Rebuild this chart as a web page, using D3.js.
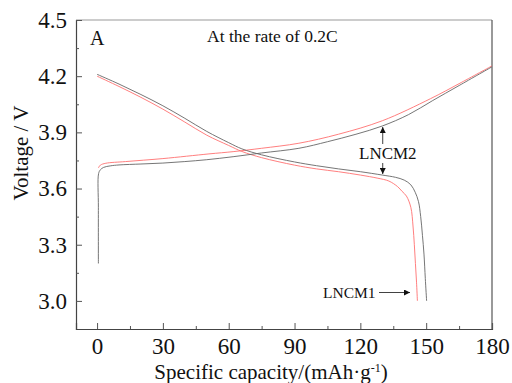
<!DOCTYPE html>
<html>
<head>
<meta charset="utf-8">
<script src="https://cdn.jsdelivr.net/npm/d3@7"></script>
<style>
  body { margin: 0; background: #fff; }
  svg { display: block; }
  text { font-family: "Liberation Serif", "Times New Roman", serif; fill: #111; }
</style>
</head>
<body>
<svg width="512" height="383"></svg>
<script>
// charge / discharge curves, [capacity mAh/g, voltage V]
var blackDischarge = [[0,4.21],[10,4.158],[20,4.102],[30,4.042],[40,3.975],[50,3.905],[60,3.845],[66,3.812],
  [75,3.78],[90,3.742],[100,3.722],[110,3.705],[120,3.69],[130,3.672],[136,3.66],[140,3.645],[143,3.62],
  [145,3.58],[146.5,3.53],[147.5,3.45],[148.3,3.35],[149,3.25],[149.6,3.12],[150.2,3.0]];
var redDischarge = [[0,4.20],[10,4.145],[20,4.087],[30,4.024],[40,3.955],[50,3.885],[60,3.83],[66,3.798],
  [75,3.765],[90,3.725],[100,3.705],[110,3.69],[120,3.672],[128,3.655],[133,3.64],[137,3.61],
  [139,3.585],[141,3.56],[143,3.50],[144,3.40],[144.6,3.30],[145.1,3.20],[145.6,3.10],[146,3.0]];
var blackCharge = [[0.6,3.20],[0.6,3.5],[0.7,3.68],[1.5,3.70],[3,3.713],[6,3.721],[10,3.726],[20,3.731],
  [30,3.736],[40,3.744],[50,3.754],[62,3.77],[75,3.79],[92,3.815],[105,3.85],[118,3.89],[130,3.934],
  [142,3.995],[153,4.07],[165,4.15],[180,4.25]];
var redCharge = [[0.6,3.71],[1.5,3.725],[4,3.735],[13,3.744],[30,3.76],[51,3.785],[62,3.797],[75,3.815],
  [92,3.842],[110,3.89],[130,3.962],[152,4.08],[165,4.16],[180,4.255]];

var xMajor = [0, 30, 60, 90, 120, 150, 180];
var xMinor = [15, 45, 75, 105, 135, 165];
var yMajor = [3.0, 3.3, 3.6, 3.9, 4.2, 4.5];
var yMinor = [3.15, 3.45, 3.75, 4.05, 4.35];

var svg = d3.select("svg");
var plotL = 76, plotR = 492, plotT = 20, plotB = 329;

var x = d3.scaleLinear().domain([-9.6, 180]).range([plotL, plotR]);
var y = d3.scaleLinear().domain([2.85, 4.5]).range([plotB, plotT]);

// frame
svg.append("line").attr("x1", plotL).attr("x2", plotR).attr("y1", plotT).attr("y2", plotT)
  .attr("stroke", "#999").attr("stroke-width", 1.2);
svg.append("line").attr("x1", plotR).attr("x2", plotR).attr("y1", plotT).attr("y2", plotB)
  .attr("stroke", "#555").attr("stroke-width", 1.2);

// axes, ticks pointing inward
svg.append("g").attr("transform", "translate(0," + plotB + ")")
  .call(d3.axisBottom(x).tickValues(xMajor).tickSize(-6).tickPadding(9).tickFormat(d3.format("d")));
svg.append("g").attr("transform", "translate(0," + plotB + ")")
  .call(d3.axisBottom(x).tickValues(xMinor).tickSize(-3).tickFormat(""))
  .select(".domain").remove();
svg.append("g").attr("transform", "translate(" + plotL + ",0)")
  .call(d3.axisLeft(y).tickValues(yMajor).tickSize(-6).tickPadding(9).tickFormat(d3.format(".1f")));
svg.append("g").attr("transform", "translate(" + plotL + ",0)")
  .call(d3.axisLeft(y).tickValues(yMinor).tickSize(-3).tickFormat(""))
  .select(".domain").remove();

svg.selectAll(".domain").attr("stroke", "#444").attr("stroke-width", 1.2);
svg.selectAll(".tick line").attr("stroke", "#555");
svg.selectAll(".tick text").style("font-size", "23px").style("font-family", "Liberation Serif").attr("fill", "#111");

// curves
var lineX = d3.line().x(function(d) { return x(d[0]); }).y(function(d) { return y(d[1]); })
  .curve(d3.curveCatmullRom);
svg.append("path").datum(redCharge).attr("d", lineX).attr("fill", "none").attr("stroke", "#ff7070").attr("stroke-width", 0.9);
svg.append("path").datum(redDischarge).attr("d", lineX).attr("fill", "none").attr("stroke", "#ff7070").attr("stroke-width", 0.9);
svg.append("path").datum(blackCharge).attr("d", lineX).attr("fill", "none").attr("stroke", "#666").attr("stroke-width", 0.9);
svg.append("path").datum(blackDischarge).attr("d", lineX).attr("fill", "none").attr("stroke", "#666").attr("stroke-width", 0.9);

// arrow marker
svg.append("defs").append("marker").attr("id", "arr")
  .attr("viewBox", "0 0 10 10").attr("refX", 10).attr("refY", 5)
  .attr("markerWidth", 8).attr("markerHeight", 6).attr("orient", "auto-start-reverse")
  .attr("markerUnits", "userSpaceOnUse")
  .append("path").attr("d", "M0,0L10,5L0,10z").attr("fill", "#111");

// annotations
svg.append("text").attr("x", 90).attr("y", 45).style("font-size", "20px").text("A");
svg.append("text").attr("x", 207).attr("y", 42).style("font-size", "17.5px").text("At the rate of 0.2C");

svg.append("text").attr("x", 359).attr("y", 159).style("font-size", "17px").text("LNCM2");
svg.append("line").attr("x1", x(130.2)).attr("x2", x(130.2)).attr("y1", 144).attr("y2", y(3.934) + 1)
  .attr("stroke", "#111").attr("stroke-width", 0.8).attr("marker-end", "url(#arr)");
svg.append("line").attr("x1", x(130.2)).attr("x2", x(130.2)).attr("y1", 163).attr("y2", y(3.672) - 1)
  .attr("stroke", "#111").attr("stroke-width", 0.8).attr("marker-end", "url(#arr)");

svg.append("text").attr("x", 323).attr("y", 298).style("font-size", "15.5px").text("LNCM1");
svg.append("line").attr("x1", 379).attr("x2", 410).attr("y1", 292.5).attr("y2", 292.5)
  .attr("stroke", "#111").attr("stroke-width", 0.8).attr("marker-end", "url(#arr)");

// axis titles
var xt = svg.append("text").attr("x", 271).attr("y", 379).attr("text-anchor", "middle").style("font-size", "21px");
xt.append("tspan").text("Specific capacity/(mAh\u00b7g");
xt.append("tspan").attr("dy", -7).style("font-size", "12px").text("-1");
xt.append("tspan").attr("dy", 7).text(")");

svg.append("text").attr("transform", "translate(28,153) rotate(-90)").attr("text-anchor", "middle")
  .style("font-size", "21px").text("Voltage / V");
</script>
</body>
</html>
